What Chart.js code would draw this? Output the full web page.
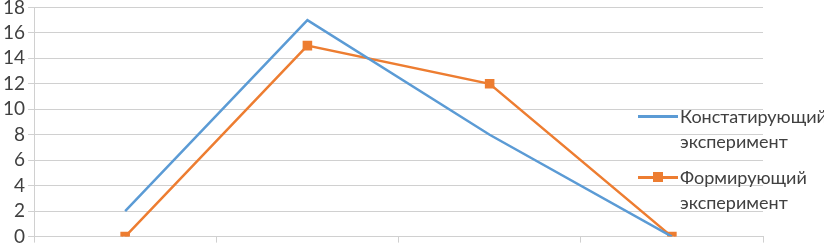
<!DOCTYPE html>
<html>
<head>
<meta charset="utf-8">
<script src="https://cdn.jsdelivr.net/npm/chart.js@4.4.1/dist/chart.umd.min.js"></script>
<style>
    html, body { margin: 0; padding: 0; background: #fff; }
    #wrap { position: relative; width: 824px; height: 243px; overflow: hidden; }
    #box { position: absolute; left: 0; top: -7px; width: 824px; height: 258px; }
    .leg { position: absolute; left: 638px; font-family: Lato, sans-serif; font-size: 18px; color: #404040; line-height: 25px; white-space: nowrap; }
    .leg .sw { position: absolute; left: 0; top: 11px; width: 40px; height: 3px; }
    .leg .mk { position: absolute; left: 15px; top: 7px; width: 10px; height: 10px; background: #ed7d31; }
    .leg .tx { position: absolute; left: 42px; top: 0; }
</style>
</head>
<body>
<div id="wrap">
    <div id="box"><canvas id="chart"></canvas></div>
    <div class="leg" style="top:104px">
        <div class="sw" style="background:#5b9bd5"></div>
        <div class="tx">Констатирующий<br>эксперимент</div>
    </div>
    <div class="leg" style="top:165px">
        <div class="sw" style="background:#ed7d31"></div>
        <div class="mk"></div>
        <div class="tx">Формирующий<br>эксперимент</div>
    </div>
</div>
<script>
const categories = ['1', '2', '3', '4'];
const seriesNames = ['Констатирующий эксперимент', 'Формирующий эксперимент'];
const constValues = [2, 17, 8, 0];
const formValues = [0, 15, 12, 0];
const yTicks = [0, 2, 4, 6, 8, 10, 12, 14, 16, 18];

const ctx = document.getElementById('chart').getContext('2d');
new Chart(ctx, {
    type: 'line',
    data: {
        labels: categories,
        datasets: [
            {
                label: seriesNames[0],
                data: constValues,
                borderColor: '#5b9bd5',
                borderWidth: 2.5,
                pointRadius: 0,
                tension: 0
            },
            {
                label: seriesNames[1],
                data: formValues,
                borderColor: '#ed7d31',
                backgroundColor: '#ed7d31',
                borderWidth: 2.5,
                pointStyle: 'rect',
                pointRadius: 5,
                tension: 0
            }
        ]
    },
    options: {
        responsive: true,
        maintainAspectRatio: false,
        animation: false,
        layout: { padding: { right: 61, top: 0, bottom: 0 } },
        plugins: {
            legend: { display: false },
            tooltip: { enabled: false }
        },
        scales: {
            x: {
                offset: true,
                grid: { offset: true, drawOnChartArea: false, color: '#d0d0d0', tickLength: 6 },
                border: { color: '#d0d0d0' },
                ticks: { display: false }
            },
            y: {
                min: 0,
                max: 18,
                afterBuildTicks: axis => { axis.ticks = yTicks.map(v => ({ value: v })); },
                grid: { color: '#d0d0d0', tickLength: 6 },
                border: { color: '#d0d0d0' },
                ticks: {
                    color: '#404040',
                    padding: 3,
                    font: { family: 'Lato', size: 19 }
                }
            }
        }
    }
});
</script>
</body>
</html>
